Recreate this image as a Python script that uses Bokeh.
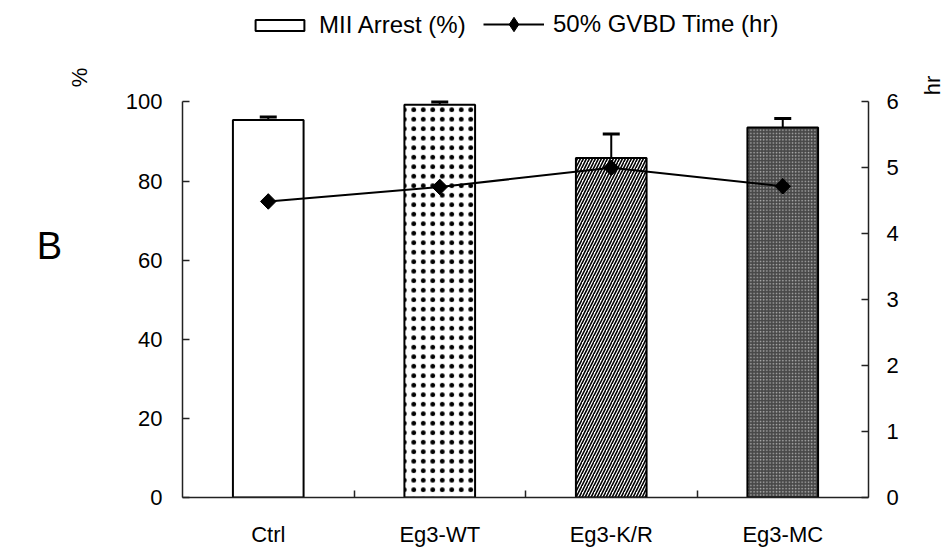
import numpy as np
from bokeh.plotting import figure
from bokeh.models import (ColumnDataSource, Range1d, LinearAxis, FixedTicker,
                          Legend, LegendItem, Whisker, TeeHead, Label)
from bokeh.embed import file_html
from bokeh.resources import INLINE

# ---- data ----
categories = ["Ctrl", "Eg3-WT", "Eg3-K/R", "Eg3-MC"]
arrest = [95.4, 99.3, 85.8, 93.5]          # MII Arrest (%)
arrest_err = [0.8, 0.7, 6.1, 2.3]          # upper error
gvbd = [4.49, 4.71, 5.00, 4.72]            # 50% GVBD time (hr)
left_ticks = [0, 20, 40, 60, 80, 100]
right_ticks = [0, 1, 2, 3, 4, 5, 6]

FONT = "Liberation Sans"

# layout: frame spans canvas top to y=497 so the legend (inside the frame)
# is not clipped; the axes are bounded to their data extent.
FRAME_H = 497.0
AXIS_PX = 395.6
y_end = left_ticks[-1] * FRAME_H / AXIS_PX
hr_end = right_ticks[-1] * FRAME_H / AXIS_PX

xs = [i + 0.5 for i in range(len(categories))]
bounds = [i for i in range(1, len(categories))]

src = ColumnDataSource(dict(
    x=xs, top=arrest,
    upper=[a + e for a, e in zip(arrest, arrest_err)],
    fill=["white", "white", "white", "#484848"],
    hatch=[" ", "dot", "right_diagonal_line", "dot"],
    hcolor=["black", "black", "black", "#b0b0b0"],
    hscale=[9.5, 9.5, 6, 3.2],
    hweight=[0.6, 0.6, 1.6, 1.0],
    hr=gvbd,
))

p = figure(width=947, height=554, output_backend="svg", toolbar_location=None,
           x_range=Range1d(0, 4), y_range=Range1d(0, y_end),
           min_border_left=182, min_border_right=79, min_border_top=0,
           min_border_bottom=57, outline_line_color=None,
           background_fill_color="white", border_fill_color="white")
p.extra_y_ranges = {"hr": Range1d(0, hr_end)}
p.xgrid.visible = False
p.ygrid.visible = False

bars = p.vbar(x="x", top="top", width=0.412, source=src, fill_color="fill",
              line_color="black", line_width=2,
              hatch_pattern="hatch", hatch_color="hcolor",
              hatch_scale="hscale", hatch_weight="hweight")

wh = Whisker(base="x", lower="top", upper="upper", source=src,
             line_color="black", line_width=2,
             upper_head=TeeHead(size=17, line_width=3, line_color="black"),
             lower_head=None)
p.add_layout(wh)

ln = p.line(x="x", y="hr", source=src, y_range_name="hr",
            line_color="black", line_width=2)
# diamond (used by the legend; lies fully under the rotated squares)
dm = p.scatter(x="x", y="hr", source=src, y_range_name="hr",
               marker="diamond", size=15,
               fill_color="black", line_color="black")
mk = p.scatter(x="x", y="hr", source=src, y_range_name="hr",
               marker="square", angle=np.pi / 4, size=11,
               fill_color="black", line_color="black")

# ---- axes ----
def style_axis(ax, standoff):
    ax.axis_line_color = "#222222"
    ax.axis_line_width = 1.5
    ax.major_tick_line_color = "#222222"
    ax.major_tick_line_width = 1.5
    ax.major_tick_in = 7
    ax.major_tick_out = 0
    ax.minor_tick_line_color = None
    ax.major_label_text_font = FONT
    ax.major_label_text_font_size = "22px"
    ax.major_label_text_color = "black"
    ax.major_label_standoff = standoff

xa = p.xaxis[0]
xa.ticker = FixedTicker(ticks=xs, minor_ticks=bounds)
xa.major_label_overrides = {x: c for x, c in zip(xs, categories)}
style_axis(xa, 24)
xa.major_tick_line_color = None
xa.minor_tick_line_color = "#222222"
xa.minor_tick_line_width = 1.5
xa.minor_tick_in = 7
xa.minor_tick_out = 0

ya = p.yaxis[0]
ya.ticker = FixedTicker(ticks=left_ticks)
ya.bounds = (left_ticks[0], left_ticks[-1])
style_axis(ya, 20)

ra = LinearAxis(y_range_name="hr", ticker=FixedTicker(ticks=right_ticks),
                bounds=(right_ticks[0], right_ticks[-1]))
style_axis(ra, 18)
p.add_layout(ra, "right")

# ---- legends (inside the extended frame) ----
leg_style = dict(orientation="horizontal", glyph_width=61, label_standoff=9,
                 padding=0, margin=0, border_line_color=None,
                 background_fill_alpha=0, label_text_font=FONT,
                 label_text_font_size="24px", label_text_color="black")
legend1 = Legend(items=[LegendItem(label="MII Arrest (%)", renderers=[bars],
                                   index=0)],
                 location=(67, 458), glyph_height=14, **leg_style)
legend2 = Legend(items=[LegendItem(label="50% GVBD Time (hr)",
                                   renderers=[ln, dm], index=0)],
                 location=(301, 455), glyph_height=36, **leg_style)
p.add_layout(legend1, "center")
p.add_layout(legend2, "center")

# ---- extra texts (side panels) ----
p.add_layout(Label(x=-18, y=420, x_units="screen", y_units="screen",
                   text="%", angle=np.pi / 2, text_font=FONT,
                   text_font_size="22px", text_align="center",
                   text_baseline="middle", text_color="black"), "left")
p.add_layout(Label(x=-23, y=252, x_units="screen", y_units="screen",
                   text="B", text_font=FONT, text_font_size="38px",
                   text_align="center", text_baseline="middle",
                   text_color="black"), "left")
p.add_layout(Label(x=31, y=412, x_units="screen", y_units="screen",
                   text="hr", angle=np.pi / 2, text_font=FONT,
                   text_font_size="22px", text_align="center",
                   text_baseline="middle", text_color="black"), "right")

open("out.html", "w").write(file_html(p, INLINE))
